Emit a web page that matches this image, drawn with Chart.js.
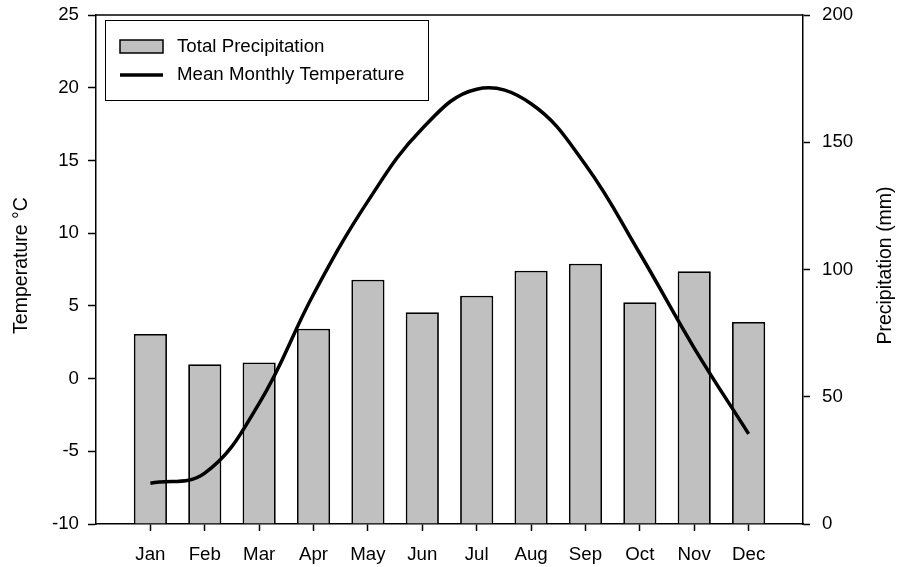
<!DOCTYPE html>
<html>
<head>
<meta charset="utf-8">
<script src="https://cdn.jsdelivr.net/npm/chart.js@4/dist/chart.umd.min.js"></script>
<style>
  html, body { margin: 0; padding: 0; background: #fff; }
</style>
</head>
<body>
<canvas id="chart_climate" width="899" height="567"></canvas>
<script>
// Climate chart: monthly precipitation (bars, right axis) + mean temperature (line, left axis)

var months = ['Jan', 'Feb', 'Mar', 'Apr', 'May', 'Jun', 'Jul', 'Aug', 'Sep', 'Oct', 'Nov', 'Dec'];
var precipitation = [74.7, 62.8, 63.5, 76.7, 96.0, 83.2, 89.7, 99.5, 102.3, 87.1, 99.3, 79.4];
var temperature = [-7.2, -6.5, -1.7, 5.8, 12.2, 17.2, 19.9, 18.9, 14.7, 8.6, 2.1, -3.8];
var tempTicks = [-10, -5, 0, 5, 10, 15, 20, 25];
var precipTicks = [0, 50, 100, 150, 200];

var tempTitle = 'Temperature \u00B0C';
var precipTitle = 'Precipitation (mm)';

// one empty slot on each side, so the first and last month sit a full step in
var slots = [''].concat(months, ['']);
function pad(arr) { return [null].concat(arr, [null]); }

var FONT = 'Liberation Sans, Arial, sans-serif';
Chart.defaults.font.family = FONT;
Chart.defaults.color = '#000';

// fixed axis sizes, no automatic label padding
function fixWidth(s) {
    s.width = 96;
    s.paddingTop = 0;
    s.paddingBottom = 0;
}

// titles, top frame line and the boxed legend inside the plot
var extras = {
    id: 'extras',
    afterDraw: function(chart) {
        var ctx = chart.ctx;
        var a = chart.chartArea;
        ctx.save();

        // top frame line
        ctx.strokeStyle = '#000';
        ctx.lineWidth = 1.5;
        ctx.beginPath();
        ctx.moveTo(a.left, a.top);
        ctx.lineTo(a.right, a.top);
        ctx.stroke();

        // axis titles, both reading bottom to top
        ctx.font = '19.5px ' + FONT;
        ctx.fillStyle = '#000';
        ctx.textAlign = 'center';
        ctx.textBaseline = 'middle';
        var midY = (a.top + a.bottom) / 2 - 4;
        ctx.save();
        ctx.translate(22, midY);
        ctx.rotate(-Math.PI / 2);
        ctx.fillText(tempTitle, 0, 0);
        ctx.restore();
        ctx.save();
        ctx.translate(chart.width - 13, midY);
        ctx.rotate(-Math.PI / 2);
        ctx.fillText(precipTitle, 0, 0);
        ctx.restore();

        // legend box
        var bx = a.left + 9.5, by = a.top + 5.5;
        ctx.fillStyle = '#fff';
        ctx.fillRect(bx, by, 323, 80);
        ctx.lineWidth = 1;
        ctx.strokeRect(bx, by, 323, 80);

        var ds = chart.data.datasets;
        ctx.font = '18.7px ' + FONT;
        ctx.textAlign = 'left';
        // bar entry
        ctx.fillStyle = ds[0].backgroundColor;
        ctx.fillRect(a.left + 24, a.top + 25, 43, 13);
        ctx.lineWidth = 1.5;
        ctx.strokeRect(a.left + 24, a.top + 25, 43, 13);
        ctx.fillStyle = '#000';
        ctx.fillText(ds[0].label, a.left + 81, a.top + 32);
        // line entry
        ctx.strokeStyle = ds[1].borderColor;
        ctx.lineWidth = 3.5;
        ctx.beginPath();
        ctx.moveTo(a.left + 24, a.top + 60);
        ctx.lineTo(a.left + 67, a.top + 60);
        ctx.stroke();
        ctx.fillText(ds[1].label, a.left + 81, a.top + 60);

        ctx.restore();
    }
};

var ctxClimate = document.getElementById('chart_climate').getContext('2d');
var ChartClimate = new Chart(ctxClimate, {
    type: 'bar',
    data: {
        labels: slots,
        datasets: [{
            type: 'bar',
            label: 'Total Precipitation',
            data: pad(precipitation),
            yAxisID: 'yP',
            backgroundColor: '#c0c0c0',
            borderColor: '#000',
            borderWidth: 1.8,
            categoryPercentage: 1,
            barPercentage: 0.61,
            order: 1
        }, {
            type: 'line',
            label: 'Mean Monthly Temperature',
            data: pad(temperature),
            yAxisID: 'yT',
            borderColor: '#000',
            borderWidth: 3.5,
            pointRadius: 0,
            tension: 0.4,
            fill: false,
            order: 0
        }]
    },
    options: {
        responsive: false,
        animation: false,
        layout: { padding: { top: 15, left: 0, right: 0, bottom: 0 } },
        plugins: {
            legend: { display: false },
            tooltip: { enabled: false }
        },
        scales: {
            x: {
                type: 'category',
                offset: false,
                afterFit: function(s) { s.height = 43; s.paddingLeft = 0; s.paddingRight = 0; },
                border: { display: true, color: '#000', width: 1.5 },
                grid: {
                    offset: false,
                    drawOnChartArea: false,
                    drawTicks: true,
                    tickLength: 7,
                    tickWidth: 1.5,
                    tickColor: function(c) { return (c.tick && c.tick.label) ? '#000' : 'rgba(0,0,0,0)'; }
                },
                ticks: { autoSkip: false, maxRotation: 0, padding: 13, font: { size: 18.7 } }
            },
            yT: {
                position: 'left',
                min: -10,
                max: 25,
                afterFit: fixWidth,
                afterBuildTicks: function(s) { s.ticks = tempTicks.map(function(v) { return { value: v }; }); },
                border: { display: true, color: '#000', width: 1.5 },
                grid: { drawOnChartArea: false, drawTicks: true, tickLength: 8, tickWidth: 1.5, tickColor: '#000' },
                ticks: { padding: 9, font: { size: 18.7 } }
            },
            yP: {
                position: 'right',
                min: 0,
                max: 200,
                afterFit: fixWidth,
                afterBuildTicks: function(s) { s.ticks = precipTicks.map(function(v) { return { value: v }; }); },
                border: { display: true, color: '#000', width: 1.5 },
                grid: { drawOnChartArea: false, drawTicks: true, tickLength: 7, tickWidth: 1.5, tickColor: '#000' },
                ticks: { padding: 12, font: { size: 18.7 } }
            }
        }
    },
    plugins: [extras]
});
</script>
</body>
</html>
